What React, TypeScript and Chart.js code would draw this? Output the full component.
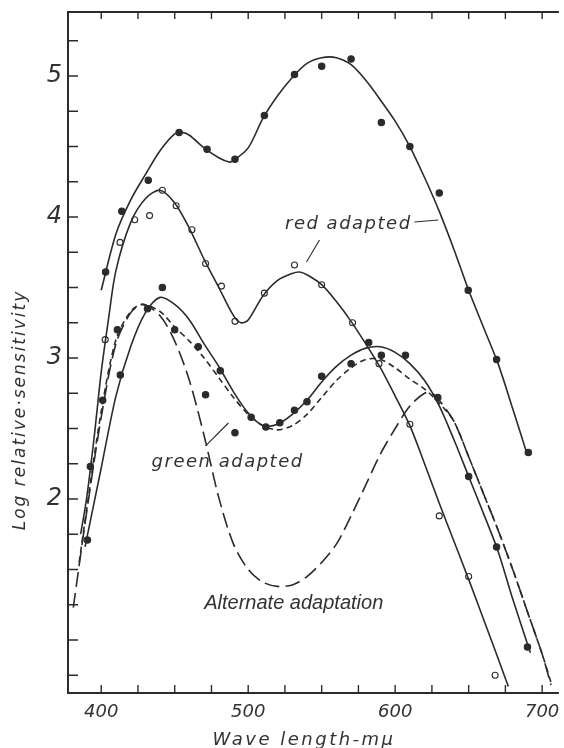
import React, { useEffect, useRef } from 'react';
import { Chart, registerables } from 'chart.js';

Chart.register(...registerables);

// ---------- axis ranges & ticks ----------
const X_MIN = 377.4;
const X_MAX = 711.4;
const Y_MIN = 0.624;
const Y_MAX = 5.454;

const xTickValues = [400, 425, 450, 475, 500, 525, 550, 575, 600, 625, 650, 675, 700];
const xLabeledTicks = [400, 500, 600, 700];
const yTickValues = [0.75, 1, 1.25, 1.5, 1.75, 2, 2.25, 2.5, 2.75, 3, 3.25, 3.5, 3.75, 4, 4.25, 4.5, 4.75, 5, 5.25];
const yLabeledTicks = [2, 3, 4, 5];

// ---------- upper curve (filled dots) ----------
const topLineWl = [400, 410, 420, 430, 440, 450, 455, 460, 470, 480, 487, 490, 500, 510, 520, 530, 540, 550, 560, 570, 580, 590, 600, 610, 620, 630, 640, 650, 660, 670, 680, 690];
const topLineLog = [3.48, 3.88, 4.12, 4.30, 4.47, 4.59, 4.60, 4.58, 4.49, 4.42, 4.39, 4.40, 4.49, 4.70, 4.86, 4.99, 5.09, 5.13, 5.13, 5.08, 4.97, 4.83, 4.68, 4.50, 4.28, 4.04, 3.77, 3.48, 3.22, 2.96, 2.64, 2.31];
const topDotsWl = [403, 414, 432, 453, 472, 491, 511, 531.5, 550, 570, 590.6, 610, 630, 649.7, 669, 690.6];
const topDotsLog = [3.61, 4.04, 4.26, 4.60, 4.48, 4.41, 4.72, 5.01, 5.07, 5.12, 4.67, 4.50, 4.17, 3.48, 2.99, 2.33];

// ---------- red adapted (open circles) ----------
const redLineWl = [386, 390, 395, 400, 405, 410, 420, 430, 440, 450, 460, 470, 480, 490, 495, 500, 510, 520, 530, 535, 540, 550, 560, 570, 580, 590, 600, 610, 620, 630, 640, 650, 660, 670, 677];
const redLineLog = [1.75, 2.0, 2.42, 2.90, 3.28, 3.62, 3.96, 4.13, 4.19, 4.10, 3.92, 3.70, 3.50, 3.30, 3.25, 3.27, 3.44, 3.55, 3.60, 3.61, 3.59, 3.52, 3.40, 3.26, 3.10, 2.93, 2.73, 2.52, 2.25, 1.97, 1.70, 1.43, 1.15, 0.87, 0.67];
const redDotsWl = [402.7, 412.8, 422.8, 432.9, 441.6, 451, 461.7, 471, 481.8, 491, 511, 531.5, 550, 571, 589, 610, 630, 650, 668];
const redDotsLog = [3.13, 3.82, 3.98, 4.01, 4.19, 4.08, 3.91, 3.67, 3.51, 3.26, 3.46, 3.66, 3.52, 3.25, 2.96, 2.53, 1.88, 1.45, 0.75];

// ---------- green adapted (solid, filled dots) ----------
const greenLineWl = [389, 400, 410, 420, 430, 440, 450, 460, 470, 480, 490, 500, 510, 520, 530, 540, 550, 560, 570, 580, 590, 600, 610, 620, 630, 640, 650, 660, 670, 680, 692];
const greenLineLog = [1.66, 2.22, 2.73, 3.08, 3.32, 3.43, 3.38, 3.27, 3.10, 2.94, 2.76, 2.61, 2.52, 2.53, 2.60, 2.70, 2.83, 2.94, 3.02, 3.07, 3.08, 3.04, 2.96, 2.84, 2.66, 2.42, 2.16, 1.90, 1.63, 1.29, 0.91];
const greenDotsWl = [390.6, 392.6, 401, 411, 413, 431.5, 441.6, 450, 466, 471, 481, 491, 502, 512, 521.5, 531.5, 540, 550, 570, 582, 590.6, 607, 629, 650, 669, 690];
const greenDotsLog = [1.71, 2.23, 2.70, 3.20, 2.88, 3.35, 3.50, 3.20, 3.08, 2.74, 2.91, 2.47, 2.58, 2.51, 2.54, 2.63, 2.69, 2.87, 2.96, 3.11, 3.02, 3.02, 2.72, 2.16, 1.66, 0.95];

// ---------- short-dashed curve ----------
const shortDashWl = [385, 390, 400, 410, 420, 428, 440, 450, 460, 470, 480, 490, 500, 510, 520, 530, 540, 550, 560, 570, 580, 590, 600, 610, 620, 630, 640, 650, 660, 670, 680, 690, 700, 706];
const shortDashLog = [1.55, 1.92, 2.62, 3.13, 3.33, 3.38, 3.33, 3.22, 3.12, 3.00, 2.86, 2.72, 2.60, 2.52, 2.49, 2.52, 2.60, 2.72, 2.84, 2.93, 2.99, 2.99, 2.93, 2.85, 2.78, 2.68, 2.55, 2.30, 2.04, 1.78, 1.50, 1.20, 0.90, 0.70];

// ---------- long-dashed curve (alternate adaptation) ----------
const longDashWl = [381, 390, 400, 410, 420, 428, 440, 450, 460, 470, 480, 490, 500, 510, 520, 530, 540, 550, 560, 570, 580, 590, 600, 610, 620, 625, 630, 640, 650, 660, 670, 680, 690, 700, 706];
const longDashLog = [1.23, 1.90, 2.58, 3.10, 3.32, 3.38, 3.30, 3.12, 2.84, 2.45, 2.01, 1.68, 1.50, 1.41, 1.38, 1.39, 1.45, 1.55, 1.68, 1.88, 2.10, 2.32, 2.50, 2.66, 2.75, 2.75, 2.70, 2.55, 2.30, 2.04, 1.78, 1.50, 1.20, 0.90, 0.68];

// ---------- annotations ----------
const redLabel = { text: 'red adapted', x: 568.1, y: 3.95 };
const redDash = [[613.1, 3.965], [629.3, 3.979]];
const redPointer = [[548.5, 3.837], [539.7, 3.681]];
const greenLabel = { text: 'green adapted', x: 486, y: 2.26 };
const greenPointer = [[471.0, 2.376], [486.5, 2.539]];
const altLabel = { text: 'Alternate adaptation', x: 531, y: 1.26 };
const xTitle = 'Wave length-mμ';
const yTitle = 'Log relative·sensitivity';

const INK = '#2b2b2b';
const HAND_FONT = '"DejaVu Sans", sans-serif';

const pts = (xs: number[], ys: number[]) => xs.map((x, i) => ({ x, y: ys[i] }));

const lineDs = (data: any[], dash: number[] = []) => ({
  type: 'line' as const,
  data,
  showLine: true,
  borderColor: INK,
  borderWidth: 1.6,
  borderDash: dash,
  pointRadius: 0,
  fill: false,
  tension: 0.3,
});

const dotDs = (data: any[], open: boolean) => ({
  type: 'scatter' as const,
  data,
  showLine: false,
  pointRadius: open ? 3 : 3.2,
  pointBorderWidth: 1.1,
  pointBorderColor: INK,
  pointBackgroundColor: open ? '#ffffff' : INK,
});

const decorPlugin = {
  id: 'decor',
  afterDraw(chart: any) {
    const { ctx, chartArea: a, scales } = chart;
    const xs = scales.x;
    const ys = scales.y;
    const px = (v: number) => xs.getPixelForValue(v);
    const py = (v: number) => ys.getPixelForValue(v);
    ctx.save();
    ctx.strokeStyle = INK;
    ctx.lineCap = 'butt';
    // frame
    ctx.lineWidth = 2;
    ctx.beginPath();
    ctx.moveTo(a.right, a.top);
    ctx.lineTo(a.left, a.top);
    ctx.lineTo(a.left, a.bottom);
    ctx.lineTo(a.right, a.bottom);
    ctx.stroke();
    // inward ticks
    ctx.lineWidth = 1.4;
    ctx.beginPath();
    for (const v of xTickValues) {
      const x = px(v);
      ctx.moveTo(x, a.bottom);
      ctx.lineTo(x, a.bottom - 8);
      ctx.moveTo(x, a.top);
      ctx.lineTo(x, a.top + 7);
    }
    for (const v of yTickValues) {
      const y = py(v);
      ctx.moveTo(a.left, y);
      ctx.lineTo(a.left + 10, y);
    }
    ctx.stroke();

    // pointers / leader lines
    ctx.lineWidth = 1.1;
    const seg = (s: number[][]) => {
      ctx.beginPath();
      ctx.moveTo(px(s[0][0]), py(s[0][1]));
      ctx.lineTo(px(s[1][0]), py(s[1][1]));
      ctx.stroke();
    };
    seg(redDash);
    seg(redPointer);
    seg(greenPointer);

    // annotation texts
    ctx.fillStyle = '#333';
    ctx.textAlign = 'center';
    ctx.textBaseline = 'middle';
    (ctx as any).letterSpacing = '1.5px';
    ctx.font = `italic 18px ${HAND_FONT}`;
    ctx.fillText(redLabel.text, px(redLabel.x), py(redLabel.y));
    ctx.fillText(greenLabel.text, px(greenLabel.x), py(greenLabel.y));
    (ctx as any).letterSpacing = '0px';
    ctx.font = 'italic 20px "Liberation Sans", Arial, sans-serif';
    ctx.fillText(altLabel.text, px(altLabel.x), py(altLabel.y));

    // axis titles
    (ctx as any).letterSpacing = '2.5px';
    ctx.font = `italic 18px ${HAND_FONT}`;
    ctx.fillText(xTitle, 304, 740);
    ctx.translate(21, 410);
    ctx.rotate(-Math.PI / 2);
    (ctx as any).letterSpacing = '2px';
    ctx.font = `italic 17px ${HAND_FONT}`;
    ctx.fillText(yTitle, 0, 0);
    ctx.restore();
  },
};

export default function App() {
  const ref = useRef<HTMLCanvasElement | null>(null);
  useEffect(() => {
    if (!ref.current) return;
    const chart = new Chart(ref.current, {
      type: 'scatter',
      data: {
        datasets: [
          lineDs(pts(topLineWl, topLineLog)),
          dotDs(pts(topDotsWl, topDotsLog), false),
          lineDs(pts(redLineWl, redLineLog)),
          dotDs(pts(redDotsWl, redDotsLog), true),
          lineDs(pts(greenLineWl, greenLineLog)),
          dotDs(pts(greenDotsWl, greenDotsLog), false),
          lineDs(pts(shortDashWl, shortDashLog), [6, 4]),
          lineDs(pts(longDashWl, longDashLog), [15, 6]),
        ] as any,
      },
      options: {
        responsive: false,
        animation: false,
        devicePixelRatio: 1,
        layout: { padding: { top: 12, right: 0, left: 0, bottom: 0 } },
        plugins: { legend: { display: false }, tooltip: { enabled: false } },
        scales: {
          x: {
            type: 'linear',
            min: X_MIN,
            max: X_MAX,
            grid: { display: false, drawTicks: false },
            border: { display: false },
            afterBuildTicks: (s: any) => {
              s.ticks = xTickValues.map((v) => ({ value: v }));
            },
            afterFit: (s: any) => {
              s.height = 55;
              s.paddingLeft = 0;
              s.paddingRight = 0;
            },
            ticks: {
              autoSkip: false,
              maxRotation: 0,
              padding: 9,
              color: '#333',
              font: { family: HAND_FONT, style: 'italic', size: 18 },
              callback: (v: any) => (xLabeledTicks.includes(Number(v)) ? String(v) : ''),
            },
          },
          y: {
            type: 'linear',
            min: Y_MIN,
            max: Y_MAX,
            grid: { display: false, drawTicks: false },
            border: { display: false },
            afterBuildTicks: (s: any) => {
              s.ticks = yTickValues.map((v) => ({ value: v }));
            },
            afterFit: (s: any) => {
              s.width = 68;
              s.paddingTop = 0;
              s.paddingBottom = 0;
            },
            ticks: {
              autoSkip: false,
              padding: 6,
              color: '#333',
              font: { family: HAND_FONT, style: 'italic', size: 24 },
              callback: (v: any) => (yLabeledTicks.includes(Number(v)) ? String(v) : ''),
            },
          },
        },
      },
      plugins: [decorPlugin],
    });
    return () => chart.destroy();
  }, []);

  return (
    <div style={{ position: 'absolute', left: 0, top: 0, width: 564, height: 748, background: '#fff' }}>
      <canvas ref={ref} width={564} height={748} style={{ display: 'block', width: 564, height: 748 }} />
    </div>
  );
}
